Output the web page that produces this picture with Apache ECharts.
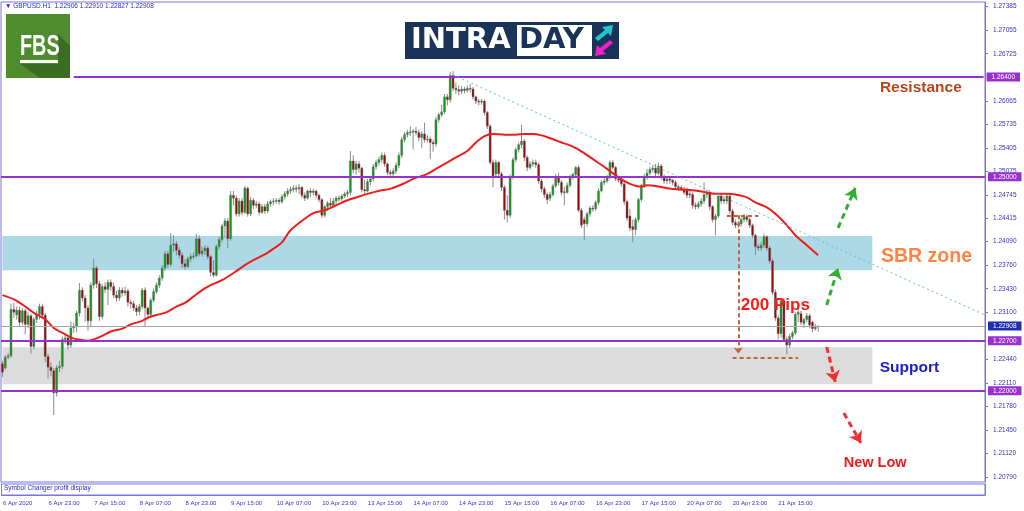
<!DOCTYPE html>
<html>
<head>
<meta charset="utf-8">
<title>GBPUSD H1 - Intraday</title>
<script src="https://cdn.jsdelivr.net/npm/echarts@6/dist/echarts.min.js"></script>
<style>
  html, body { margin: 0; padding: 0; background: #fff; }
  #chart { width: 1024px; height: 511px; }
</style>
</head>
<body>
<div id="chart"></div>
<script>
// trading days on the H1 chart, first bar 6 Apr 07:00, last bar 22 Apr 05:00
const days = ['6 Apr', '7 Apr', '8 Apr', '9 Apr', '10 Apr', '13 Apr', '14 Apr', '15 Apr',
  '16 Apr', '17 Apr', '20 Apr', '21 Apr', '22 Apr']
const firstHour = 7
const lastHour = 5
const slotCount = 345 // bars + empty chart shift on the right

// hourly candles [open, close, low, high] in 1/10000
const week1 = [
  [12238,12226,12219,12242],[12232,12247,12229,12250],[12247,12249,12244,12253],[12249,12314,12246,12322],
  [12314,12310,12302,12323],[12306,12313,12300,12318],[12313,12296,12290,12318],[12296,12312,12292,12316],
  [12312,12293,12279,12315],[12293,12305,12288,12310],[12305,12262,12252,12308],[12262,12300,12258,12303],
  [12300,12307,12295,12312],[12307,12318,12300,12322],[12318,12306,12300,12322],[12306,12248,12240,12309],
  [12248,12233,12217,12252],[12233,12228,12220,12240],[12228,12197,12166,12232],[12197,12232,12192,12236],
  [12232,12234,12226,12242],[12234,12272,12230,12276],[12272,12274,12266,12279],[12274,12264,12258,12278],
  [12264,12288,12260,12297],[12288,12290,12281,12295],[12290,12309,12282,12312],[12309,12341,12304,12351],
  [12341,12330,12325,12345],[12330,12316,12297,12334],[12316,12298,12284,12320],[12298,12348,12289,12352],
  [12348,12372,12343,12385],[12372,12350,12344,12375],[12350,12304,12298,12354],[12304,12346,12300,12350],
  [12346,12342,12337,12352],[12342,12352,12320,12356],[12352,12346,12340,12356],[12346,12334,12330,12352],
  [12334,12330,12325,12340],[12330,12341,12326,12345],[12341,12337,12332,12345],[12337,12340,12333,12346],
  [12340,12324,12318,12343],[12324,12322,12315,12328],[12322,12316,12312,12326],[12316,12311,12305,12320],
  [12311,12318,12306,12322],[12318,12341,12314,12344],[12341,12316,12290,12345],[12316,12307,12300,12318],
  [12307,12327,12302,12330],[12327,12339,12324,12343],[12339,12348,12336,12352],[12348,12358,12344,12362],
  [12358,12372,12354,12376],[12372,12392,12368,12396],[12392,12377,12372,12396],[12377,12404,12374,12421],
  [12404,12406,12395,12418],[12406,12397,12390,12410],[12397,12390,12385,12402],[12390,12378,12372,12394],
  [12378,12374,12370,12384],[12374,12385,12372,12388],[12385,12388,12380,12392],[12388,12389,12384,12394],
  [12389,12413,12386,12420],[12413,12392,12388,12418],[12392,12396,12388,12402],[12396,12400,12390,12404],
  [12400,12388,12384,12403],[12388,12366,12360,12390],[12366,12362,12359,12383],[12362,12402,12360,12405],
  [12402,12412,12398,12416],[12412,12431,12408,12434],[12431,12438,12415,12442],[12438,12413,12400,12442],
  [12413,12474,12410,12480],[12474,12470,12460,12480],[12470,12448,12444,12474],[12448,12466,12444,12470],
  [12466,12450,12446,12470],[12450,12484,12448,12487],[12484,12448,12444,12486],[12448,12467,12445,12472],
  [12467,12460,12455,12470],[12460,12462,12456,12466],[12462,12450,12446,12465],[12450,12458,12448,12462],
  [12458,12452,12448,12462],[12452,12462,12449,12466],[12462,12465,12458,12468],[12465,12466,12460,12470],
  [12466,12467,12462,12470],[12467,12465,12461,12470],[12465,12472,12462,12475],[12472,12476,12468,12480],
  [12476,12480,12472,12484],[12480,12482,12476,12486],[12482,12484,12478,12488],[12484,12483,12478,12488],
  [12483,12485,12476,12490],[12485,12474,12470,12487],[12474,12470,12466,12478],[12470,12480,12468,12482],
  [12480,12478,12472,12484],[12478,12480,12474,12483],[12480,12474,12470,12482],[12474,12468,12464,12476],
  [12468,12446,12442,12470]
]
const week2 = [
  [12446,12458,12443,12460],[12458,12463,12452,12466],[12463,12460,12455,12470],[12460,12466,12456,12470],
  [12466,12470,12462,12473],[12470,12469,12465,12474],[12469,12473,12466,12476],[12473,12476,12470,12479],
  [12476,12478,12472,12482],[12478,12522,12474,12536],[12522,12510,12505,12530],[12510,12518,12503,12522],
  [12518,12512,12506,12522],[12512,12482,12478,12514],[12482,12480,12475,12496],[12480,12493,12478,12497],
  [12493,12497,12488,12500],[12497,12514,12494,12518],[12514,12520,12510,12524],[12520,12524,12516,12528],
  [12524,12530,12520,12534],[12530,12518,12514,12534],[12518,12506,12502,12520],[12506,12504,12498,12510],
  [12504,12508,12500,12512],[12508,12516,12504,12520],[12516,12530,12512,12534],[12530,12552,12526,12556],
  [12552,12559,12548,12563],[12559,12562,12555,12566],[12562,12563,12557,12571],[12563,12564,12538,12567],
  [12564,12562,12558,12570],[12562,12555,12550,12566],[12555,12560,12540,12564],[12560,12552,12548,12576],
  [12552,12553,12548,12558],[12553,12548,12525,12556],[12548,12546,12535,12552],[12546,12580,12542,12584],
  [12580,12587,12576,12590],[12587,12591,12584,12601],[12591,12612,12588,12616],[12612,12608,12600,12616],
  [12608,12642,12604,12647],[12642,12624,12620,12648],[12624,12622,12616,12632],[12622,12620,12614,12628],
  [12620,12623,12616,12627],[12623,12621,12617,12626],[12621,12624,12618,12628],[12624,12623,12618,12630],
  [12623,12612,12608,12626],[12612,12606,12602,12614],[12606,12605,12600,12609],[12605,12606,12601,12609],
  [12606,12590,12586,12608],[12590,12571,12567,12592],[12571,12520,12517,12574],[12520,12501,12485,12524],
  [12504,12520,12500,12524],[12520,12504,12500,12522],[12504,12485,12480,12507],[12485,12453,12440,12488],
  [12453,12446,12436,12474],[12446,12500,12442,12503],[12500,12524,12496,12527],[12524,12538,12520,12541],
  [12538,12545,12534,12548],[12545,12550,12540,12573],[12550,12527,12522,12553],[12527,12513,12508,12530],
  [12513,12518,12510,12522],[12518,12520,12514,12524],[12520,12517,12512,12524],[12517,12494,12490,12520],
  [12494,12483,12478,12497],[12483,12475,12470,12486],[12475,12468,12462,12478],[12470,12475,12466,12479],
  [12475,12487,12472,12490],[12487,12500,12484,12504],[12500,12492,12488,12506],[12492,12478,12474,12495],
  [12479,12478,12460,12486],[12478,12488,12476,12492],[12488,12500,12485,12503],[12500,12503,12496,12506],
  [12503,12513,12499,12515],[12513,12453,12450,12516],[12453,12432,12428,12456],[12440,12434,12411,12444],
  [12434,12448,12430,12451],[12448,12456,12444,12459],[12456,12455,12451,12460],[12455,12464,12452,12467],
  [12464,12480,12460,12484],[12480,12492,12478,12495],[12492,12494,12488,12498],[12494,12499,12491,12503],
  [12499,12520,12496,12523],[12520,12513,12510,12523],[12513,12497,12494,12515],[12497,12495,12492,12500],
  [12496,12490,12486,12499],[12490,12465,12460,12494],[12465,12442,12438,12468],[12445,12428,12424,12455],
  [12430,12426,12408,12440],[12426,12440,12418,12443],[12440,12468,12436,12470],[12468,12488,12465,12490],
  [12488,12500,12484,12504],[12500,12505,12496,12511],[12505,12510,12502,12514],[12510,12512,12506,12516]
]
const week3 = [
  [12512,12505,12500,12518],[12505,12515,12502,12520],[12515,12500,12496,12518],[12500,12494,12490,12503],
  [12494,12497,12490,12500],[12497,12495,12490,12500],[12495,12492,12488,12497],[12492,12486,12483,12495],
  [12486,12485,12480,12489],[12485,12483,12480,12488],[12483,12478,12475,12486],[12481,12474,12470,12485],
  [12476,12475,12470,12480],[12475,12460,12455,12478],[12460,12458,12454,12464],[12458,12462,12455,12466],
  [12462,12466,12458,12470],[12466,12475,12462,12492],[12475,12478,12470,12482],[12478,12458,12453,12480],
  [12458,12440,12436,12460],[12440,12445,12418,12448],[12445,12473,12442,12476],[12473,12466,12462,12477],
  [12468,12466,12462,12472],[12466,12473,12462,12476],[12473,12452,12448,12475],[12452,12436,12432,12455],
  [12436,12432,12428,12440],[12432,12434,12428,12438],[12434,12440,12430,12443],[12440,12445,12436,12448],
  [12444,12440,12436,12447],[12440,12432,12428,12443],[12432,12418,12414,12434],[12418,12402,12390,12420],
  [12402,12400,12396,12406],[12400,12404,12396,12408],[12404,12416,12400,12420],[12416,12400,12396,12418],
  [12400,12382,12378,12403],[12382,12338,12334,12385],[12338,12302,12298,12342],[12302,12280,12272,12306],
  [12280,12326,12274,12330],[12326,12272,12268,12330],[12272,12264,12251,12276],[12264,12276,12260,12280],
  [12276,12281,12272,12284],[12281,12307,12278,12310],[12307,12310,12296,12318],[12308,12296,12292,12312],
  [12294,12300,12288,12302],[12300,12305,12296,12309],[12305,12292,12288,12308],[12296,12287,12282,12298],
  [12287,12290,12284,12294],[12290.6,12290.8,12282.7,12291.0]
]

// red moving average: [bar, value]
const maLine = [
  [0,12334],[4,12328],[8,12318],[11,12309],[15,12300],[18,12288],[22,12279],[25,12273],[28,12271],
  [30,12270],[32,12272],[35,12277],[38,12283],[42,12287],[45,12293],[49,12298],[52,12304],[55,12307],
  [58,12311],[61,12318],[64,12323],[67,12332],[70,12341],[73,12348],[77,12355],[81,12365],[85,12376],
  [88,12383],[92,12391],[95,12399],[98,12408],[101,12425],[106,12441],[109,12449],[113,12453],[117,12460],
  [121,12467],[124,12471],[128,12476],[133,12481],[136,12483],[141,12491],[144,12497],[149,12504],
  [152,12511],[156,12520],[159,12527],[163,12536],[166,12548],[169,12557],[172,12560],[176,12559],
  [180,12559],[183,12560],[186,12560],[189,12558],[192,12554],[196,12548],[199,12544],[202,12538],
  [208,12522],[212,12511],[216,12499],[220,12490],[224,12486],[226,12488],[229,12487],[233,12484],
  [238,12482],[242,12481],[247,12478],[250,12476],[254,12476],[257,12475],[261,12471],[264,12464],
  [268,12457],[271,12448],[275,12432],[278,12418],[282,12404],[286,12390]
]

const yTicks = [1.2079, 1.2112, 1.2145, 1.2178, 1.2211, 1.2244, 1.2310, 1.2343, 1.2376, 1.2409,
  1.24415, 1.24745, 1.25075, 1.25405, 1.25735, 1.26065, 1.26725, 1.27055, 1.27385]
const levels = [1.2500, 1.2270, 1.2200]
const resistance = 1.2640
const lastPrice = 1.22908
const sbrZone = [1.2369, 1.2417]
const supportZone = [1.2209, 1.2261]
const pipsTop = 1.2446
const pipsBottom = 1.2246

const categories = []
days.forEach((d, k) => {
  const from = k === 0 ? firstHour : 0
  const to = k === days.length - 1 ? lastHour : 23
  for (let h = from; h <= to; h++) {
    categories.push(d + ' ' + String(h).padStart(2, '0') + ':00')
  }
})
while (categories.length < slotCount) categories.push('')

const candles = week1.concat(week2, week3)
const pip = v => v / 10000

const purple = '#9932cc'
const frame = '#7676e0'
const axisText = '#3535c0'

const labelEvery = (i, v) => v !== '' && i % 16 === 0

// price box on the right scale
const priceBox = (bg) => ({
  show: true, position: 'end', distance: 3, fontSize: 6.5, color: '#fff', backgroundColor: bg,
  padding: [1, 5, 1, 5], formatter: p => p.name
})

const chart = echarts.init(document.getElementById('chart'))

chart.setOption({
  animation: false,
  backgroundColor: '#fff',
  textStyle: { fontFamily: 'Liberation Sans, Arial, sans-serif' },
  grid: [
    { left: 1, right: 39, top: 2, height: 480, show: true, borderColor: frame, borderWidth: 1 },
    { left: 1, right: 39, top: 484, height: 11, show: true, borderColor: frame, borderWidth: 1 }
  ],
  xAxis: [
    {
      type: 'category', data: categories, boundaryGap: true,
      axisLine: { show: false }, axisTick: { show: false }, axisLabel: { show: false }
    },
    {
      type: 'category', data: categories, boundaryGap: true, gridIndex: 1,
      axisLine: { lineStyle: { color: frame } },
      axisTick: { interval: labelEvery, alignWithLabel: true, length: 3, lineStyle: { color: frame } },
      axisLabel: {
        interval: labelEvery, align: 'left', margin: 5, fontSize: 6, color: axisText,
        formatter: (v, i) => (i === 0 ? '6 Apr 2020' : v)
      }
    }
  ],
  yAxis: [
    {
      type: 'value', position: 'right', min: 1.2072, max: 1.2745, scale: true,
      splitLine: { show: false },
      axisLine: { show: true, lineStyle: { color: frame } },
      axisTick: { show: true, length: 3, customValues: yTicks, lineStyle: { color: frame } },
      axisLabel: { customValues: yTicks, fontSize: 6.5, color: axisText, margin: 8, formatter: v => v.toFixed(5) }
    },
    {
      type: 'value', position: 'right', gridIndex: 1, min: 0, max: 1,
      splitLine: { show: false }, axisLine: { show: true, lineStyle: { color: frame } },
      axisTick: { show: false }, axisLabel: { show: false }
    }
  ],
  series: [
    {
      name: 'zones', type: 'line', data: [], z: 1, silent: true,
      markArea: {
        silent: true,
        data: [
          [{ xAxis: -0.5, yAxis: sbrZone[0], itemStyle: { color: '#add8e6' } }, { xAxis: 305, yAxis: sbrZone[1] }],
          [{ xAxis: -0.5, yAxis: supportZone[0], itemStyle: { color: '#dcdcdc' } }, { xAxis: 305, yAxis: supportZone[1] }]
        ]
      }
    },
    {
      name: 'last', type: 'line', data: [], z: 2, silent: true,
      markLine: {
        silent: true, symbol: 'none', precision: 5,
        lineStyle: { color: '#a6a6a6', width: 1, type: 'solid' },
        label: priceBox('#1f2fb0'),
        data: [{ name: lastPrice.toFixed(5), yAxis: lastPrice }]
      }
    },
    {
      name: 'levels', type: 'line', data: [], z: 2, silent: true,
      markLine: {
        silent: true, symbol: 'none', precision: 5,
        lineStyle: { color: purple, width: 2, type: 'solid' },
        label: priceBox(purple),
        data: levels.map(v => ({ name: v.toFixed(5), yAxis: v }))
      }
    },
    {
      name: 'resistance', type: 'line', data: [], z: 2, silent: true,
      markLine: {
        silent: true, symbol: 'none', precision: 5,
        lineStyle: { color: purple, width: 2, type: 'solid' },
        label: priceBox(purple),
        data: [[{ name: resistance.toFixed(5), coord: [24.7, resistance] }, { coord: [344, resistance] }]]
      }
    },
    {
      name: 'GBPUSD,H1', type: 'custom', z: 3,
      data: candles.map((c, i) => [i, pip(c[0]), pip(c[1]), pip(c[2]), pip(c[3])]),
      encode: { x: 0, y: [1, 2, 3, 4] },
      renderItem(params, api) {
        const i = api.value(0)
        const o = api.coord([i, api.value(1)])
        const c = api.coord([i, api.value(2)])
        const lo = api.coord([i, api.value(3)])
        const hi = api.coord([i, api.value(4)])
        const w = api.size([1, 0])[0] * 0.72
        const up = api.value(2) >= api.value(1)
        return {
          type: 'group',
          children: [
            { type: 'line', shape: { x1: o[0], y1: hi[1], x2: o[0], y2: lo[1] }, style: { stroke: '#8a8a8a', lineWidth: 1 } },
            {
              type: 'rect',
              shape: { x: o[0] - w / 2, y: Math.min(o[1], c[1]), width: w, height: Math.max(1, Math.abs(o[1] - c[1])) },
              style: { fill: up ? '#14951c' : '#8e0c0c', stroke: '#6f6f6f', lineWidth: 0.4 }
            }
          ]
        }
      }
    },
    {
      name: 'MA', type: 'line', z: 4, smooth: 0.3, symbol: 'none',
      data: maLine.map(p => [p[0], pip(p[1])]),
      lineStyle: { color: '#f01c1c', width: 2 }
    },
    {
      // dotted trend line from the top
      name: 'trend', type: 'line', data: [], z: 5, silent: true,
      markLine: {
        silent: true, symbol: 'none', precision: 5, label: { show: false },
        lineStyle: { color: '#5ec4cf', width: 1, type: [2, 3] },
        data: [[{ coord: [157.6, 1.26428] }, { coord: [344, 1.23070] }]]
      }
    },
    {
      // 200 pips measure
      name: 'pips', type: 'line', data: [], z: 5, silent: true,
      markLine: {
        silent: true, symbol: 'none', precision: 5, label: { show: false },
        lineStyle: { color: '#c4633a', width: 2, type: [4, 3] },
        data: [
          [{ coord: [254.4, pipsTop] }, { coord: [264.6, pipsTop] }],
          [{ coord: [256.2, pipsBottom] }, { coord: [278.6, pipsBottom] }],
          [{ coord: [258.3, pipsTop] }, { coord: [258.3, pipsBottom + 0.0006], symbol: 'arrow', symbolSize: [7, 6] }]
        ]
      },
      markPoint: {
        silent: true, symbolSize: 0,
        data: [{
          coord: [270.9, 1.23202],
          label: { show: true, position: 'inside', formatter: '200 Pips', color: '#ff1a1a', fontSize: 17, fontWeight: 'bold' }
        }]
      }
    },
    {
      name: 'up', type: 'line', data: [], z: 5, silent: true,
      markLine: {
        silent: true, symbol: ['none', 'arrow'], symbolSize: 11, precision: 5, label: { show: false },
        lineStyle: { color: '#35ad35', width: 3, type: [6, 4] },
        data: [
          [{ coord: [288.8, 1.23202] }, { coord: [293.0, 1.23721] }],
          [{ coord: [293.0, 1.24282] }, { coord: [299.0, 1.24843] }]
        ]
      }
    },
    {
      name: 'down', type: 'line', data: [], z: 5, silent: true,
      markLine: {
        silent: true, symbol: ['none', 'arrow'], symbolSize: 11, precision: 5, label: { show: false },
        lineStyle: { color: '#f03030', width: 3, type: [6, 4] },
        data: [
          [{ coord: [288.8, 1.22613] }, { coord: [292.0, 1.22122] }],
          [{ coord: [295.4, 1.21687] }, { coord: [300.7, 1.21267] }]
        ]
      },
      markPoint: {
        silent: true, symbolSize: 0,
        label: { show: true, position: 'inside', fontWeight: 'bold' },
        data: [
          { coord: [322.1, 1.26246], label: { formatter: 'Resistance', color: '#b8441c', fontSize: 15.5 } },
          { coord: [324.2, 1.23875], label: { formatter: 'SBR zone', color: '#ff8543', fontSize: 19.5 } },
          { coord: [317.5, 1.22319], label: { formatter: 'Support', color: '#1c1ccc', fontSize: 15.5 } },
          { coord: [305.6, 1.20986], label: { formatter: 'New Low', color: '#ee1c1c', fontSize: 14.5 } }
        ]
      }
    }
  ],
  graphic: [
    {
      type: 'text', left: 5, top: 3,
      style: { text: '\u25BC GBPUSD.H1  1.22906 1.22910 1.22827 1.22908', fontSize: 6.5, fill: '#2a2ab8', fontFamily: 'Liberation Sans' }
    },
    {
      type: 'text', left: 4, top: 485,
      style: { text: 'Symbol Changer profit display', fontSize: 6.5, fill: '#2a2ab8', fontFamily: 'Liberation Sans' }
    },
    {
      // FBS logo
      type: 'group', left: 6, top: 14,
      children: [
        { type: 'rect', shape: { x: 0, y: 0, width: 64, height: 64 }, style: { fill: '#4e8c2e' } },
        { type: 'polygon', shape: { points: [[52, 20], [64, 32], [64, 64], [34, 64], [14, 50], [52, 50]] }, style: { fill: '#3a6d22' } },
        { type: 'text', x: 14, y: 18, scaleX: 0.66, style: { text: 'FBS', fontSize: 30, fontWeight: 'bold', fill: '#fff', fontFamily: 'Liberation Sans' } },
        { type: 'rect', shape: { x: 14, y: 46, width: 38, height: 3 }, style: { fill: '#fff' } }
      ]
    },
    {
      // INTRADAY logo
      type: 'group', left: 405, top: 22,
      children: [
        { type: 'rect', shape: { x: 0, y: 0, width: 214, height: 37 }, style: { fill: '#1b3358' } },
        { type: 'text', x: 6, y: 4, style: { text: 'INTRA', fontSize: 29, fontWeight: 'bold', fill: '#fff', fontFamily: 'DejaVu Sans' } },
        { type: 'rect', shape: { x: 112, y: 3, width: 75, height: 31 }, style: { fill: '#fff' } },
        { type: 'text', x: 114, y: 4, style: { text: 'DAY', fontSize: 29, fontWeight: 'bold', fill: '#1b3358', fontFamily: 'DejaVu Sans' } },
        { type: 'polygon', shape: { points: [[190, 16], [200, 8], [197, 5], [208, 3], [206, 14], [203, 11], [193, 19]] }, style: { fill: '#1ec8c8' } },
        { type: 'polygon', shape: { points: [[208, 21], [198, 29], [201, 32], [190, 34], [192, 23], [195, 26], [205, 18]] }, style: { fill: '#f020c8' } }
      ]
    }
  ]
})
</script>
</body>
</html>
